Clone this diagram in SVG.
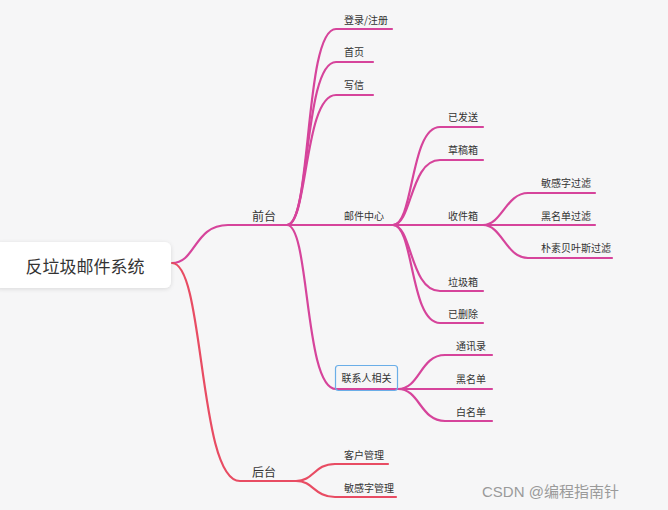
<svg xmlns="http://www.w3.org/2000/svg" width="668" height="510" viewBox="0 0 668 510">
<defs>
<style>
.bg{fill:#f6f6f7}
.t{font-family:"Noto Sans CJK SC","Liberation Sans",sans-serif;fill:#333;font-size:10px}
.m{font-size:12px}
.r{font-size:17px}
.c1{fill:none;stroke:#d6449b;stroke-width:2.2;stroke-linecap:round}
.c2{fill:none;stroke:#e84c63;stroke-width:2.2;stroke-linecap:round}
.wm{font-family:"Liberation Sans","Noto Sans CJK SC",sans-serif;font-size:15px;fill:#9a9a9a}
</style>
<filter id="sh" x="-10%" y="-20%" width="120%" height="150%">
<feDropShadow dx="0" dy="1" stdDeviation="2" flood-color="#000" flood-opacity="0.12"/>
</filter>
<linearGradient id="g1" x1="0" y1="1" x2="1" y2="0">
<stop offset="0" stop-color="#e84c63"/>
<stop offset="1" stop-color="#d6449b"/>
</linearGradient>
</defs>
<rect class="bg" x="0" y="0" width="668" height="510"/>
<g id="connectors">
<path d="M172,263 C196,263 194,225 228,225 H287" fill="none" stroke="#d6449b" stroke-width="2.2"/>
<path class="c2" d="M172,263 C205,263 198,481 240,481 H296"/>
<path class="c1" d="M287,225 C312,225 304,29 336,29 H392"/>
<path class="c1" d="M287,225 C310,225 304,62 336,62 H373"/>
<path class="c1" d="M287,225 C308,225 304,95 336,95 H373"/>
<path class="c1" d="M287,225 H393"/>
<path class="c1" d="M287,225 C310,225 304,389 336,389 H398"/>
<path class="c1" d="M393,225 C414,225 410,127 440,127 H483"/>
<path class="c1" d="M393,225 C412,225 410,160 440,160 H483"/>
<path class="c1" d="M393,225 H483"/>
<path class="c1" d="M393,225 C412,225 410,291 440,291 H483"/>
<path class="c1" d="M393,225 C414,225 410,323 440,323 H483"/>
<path class="c1" d="M483,225 C502,225 506,193 528,193 H595"/>
<path class="c1" d="M483,225 H595"/>
<path class="c1" d="M483,225 C502,225 506,258 528,258 H612"/>
<path class="c1" d="M398,389 C420,389 420,355 445,355 H492"/>
<path class="c1" d="M398,389 H492"/>
<path class="c1" d="M398,389 C420,389 420,421 445,421 H492"/>
<path class="c2" d="M296,481 C314,481 314,464 335,464 H388"/>
<path class="c2" d="M296,481 C314,481 314,497 335,497 H396"/>
</g>
<g id="root">
<rect x="-6" y="242" width="177" height="46" rx="6" fill="#fff" filter="url(#sh)"/>
<text class="t r" x="85" y="273" text-anchor="middle">反垃圾邮件系统</text>
</g>
<g id="qiantai"><text class="t m" x="252" y="221">前台</text></g>
<g id="houtai"><text class="t m" x="252" y="477">后台</text></g>
<g id="denglu"><text class="t" x="344" y="24">登录/注册</text></g>
<g id="shouye"><text class="t" x="344" y="56">首页</text></g>
<g id="xiexin"><text class="t" x="344" y="89">写信</text></g>
<g id="youjian"><text class="t" x="344" y="220">邮件中心</text></g>
<g id="lianxiren">
<rect x="335.5" y="365.5" width="62" height="25" rx="3" fill="none" stroke="#6aaee8" stroke-width="1.2"/>
<text class="t" x="366.5" y="382" text-anchor="middle">联系人相关</text>
</g>
<g id="yifasong"><text class="t" x="448" y="121">已发送</text></g>
<g id="caogao"><text class="t" x="448" y="154">草稿箱</text></g>
<g id="shoujian"><text class="t" x="448" y="220">收件箱</text></g>
<g id="laji"><text class="t" x="448" y="286">垃圾箱</text></g>
<g id="yishanchu"><text class="t" x="448" y="318">已删除</text></g>
<g id="mingan"><text class="t" x="541" y="187">敏感字过滤</text></g>
<g id="heimingdanguolv"><text class="t" x="541" y="220">黑名单过滤</text></g>
<g id="pusu"><text class="t" x="541" y="252">朴素贝叶斯过滤</text></g>
<g id="tongxunlu"><text class="t" x="456" y="350">通讯录</text></g>
<g id="heimingdan"><text class="t" x="456" y="383">黑名单</text></g>
<g id="baimingdan"><text class="t" x="456" y="416">白名单</text></g>
<g id="kehu"><text class="t" x="344" y="459">客户管理</text></g>
<g id="minganguanli"><text class="t" x="344" y="492">敏感字管理</text></g>
<text class="wm" x="482" y="497">CSDN @编程指南针</text>
</svg>
